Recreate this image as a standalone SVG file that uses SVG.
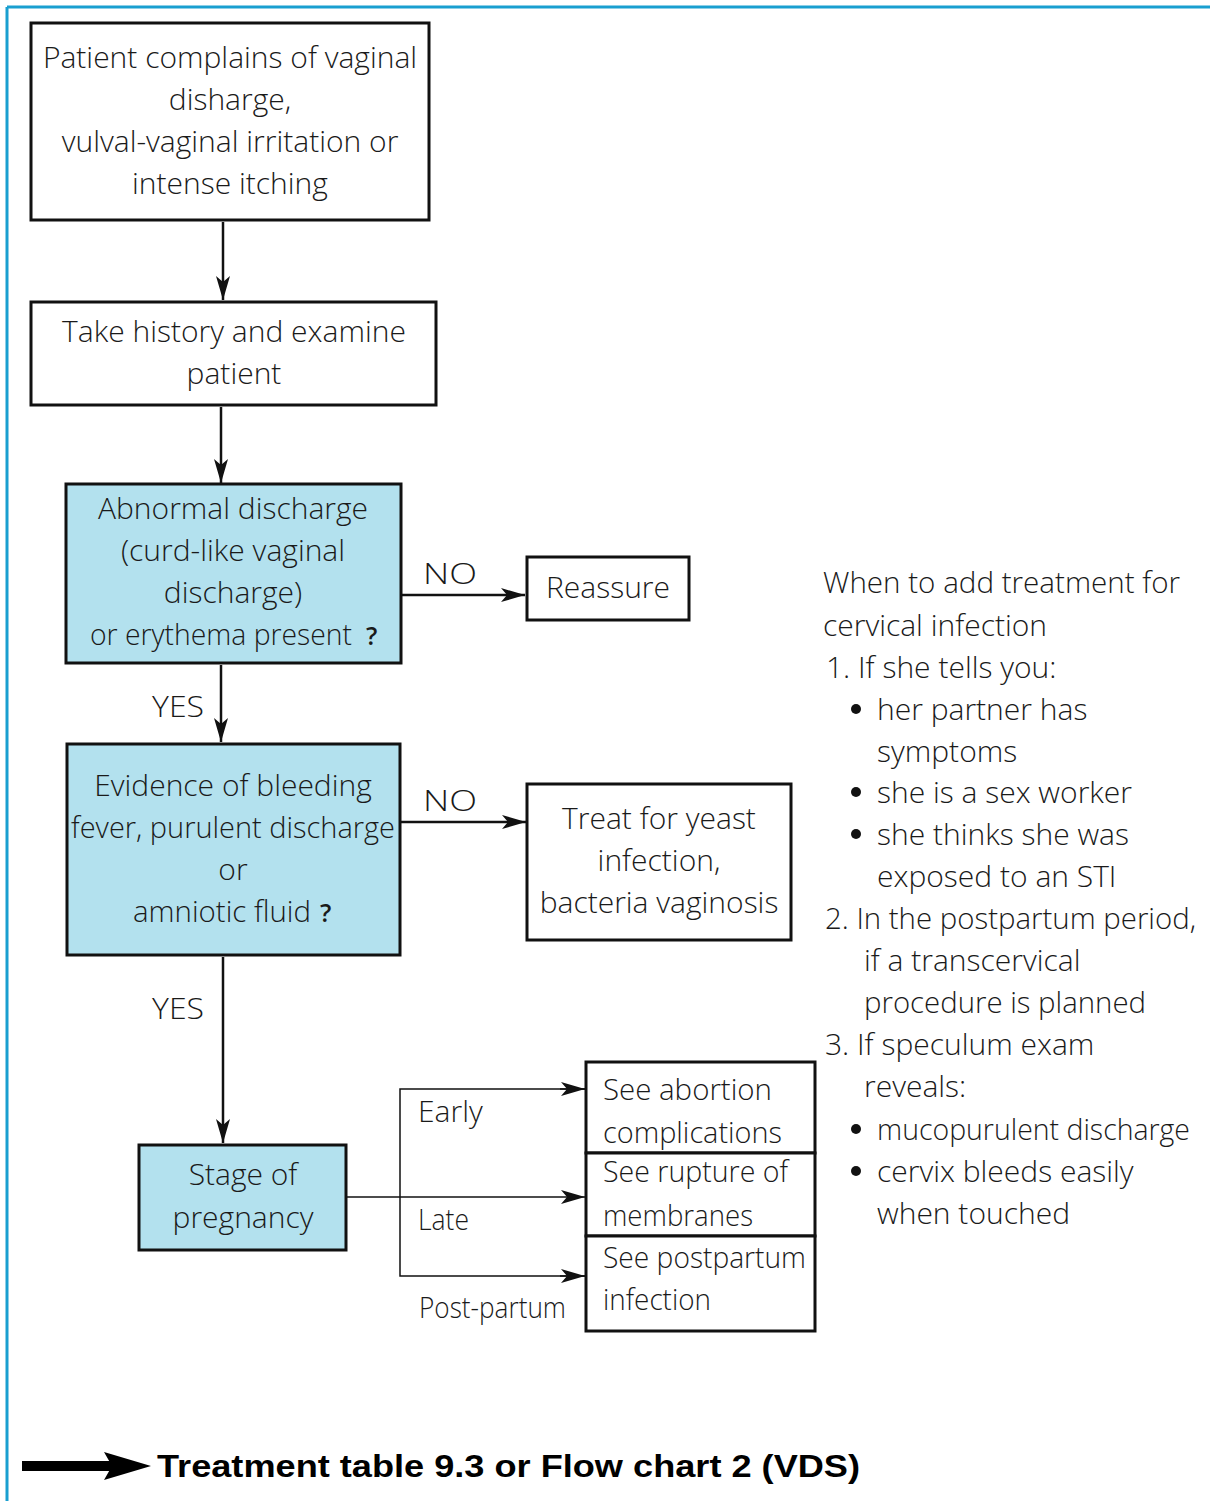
<svg xmlns="http://www.w3.org/2000/svg" width="1210" height="1501" viewBox="0 0 1210 1501">
<style>
  text { font-family: "Open Sans", "Liberation Sans", sans-serif; font-weight: 300; font-size: 30px; fill: #1a1a1a; }
  .c { text-anchor: middle; }
  .q { font-weight: 600; font-size: 25px; }
  .box { fill: #ffffff; stroke: #111111; stroke-width: 3; }
  .blue { fill: #b3e1ee; stroke: #111111; stroke-width: 3; }
  .conn { stroke: #111111; stroke-width: 2.5; fill: none; }
  .thin { stroke: #111111; stroke-width: 1.5; fill: none; }
  .bold { font-family: "Liberation Sans", sans-serif; font-weight: 700; font-size: 32px; fill: #000; }
</style>
<defs>
  <marker id="ah" markerUnits="userSpaceOnUse" markerWidth="26" markerHeight="16" refX="24" refY="8" orient="auto">
    <path d="M0,1 L24,8 L0,15 L6,8 Z" fill="#111111"/>
  </marker>
</defs>
<rect x="0" y="0" width="1210" height="1501" fill="#ffffff"/>
<g id="border">
  <line x1="7" y1="7" x2="1210" y2="7" stroke="#1a9fd0" stroke-width="3"/>
  <line x1="7" y1="7" x2="7" y2="1501" stroke="#1a9fd0" stroke-width="3"/>
</g>
<g id="connectors">
  <line class="conn" x1="223" y1="222" x2="223" y2="300" marker-end="url(#ah)"/>
  <line class="conn" x1="221" y1="407" x2="221" y2="483" marker-end="url(#ah)"/>
  <line class="conn" x1="402" y1="595" x2="525" y2="595" marker-end="url(#ah)"/>
  <line class="conn" x1="221" y1="665" x2="221" y2="742" marker-end="url(#ah)"/>
  <line class="conn" x1="401" y1="822" x2="526" y2="822" marker-end="url(#ah)"/>
  <line class="conn" x1="223" y1="957" x2="223" y2="1143" marker-end="url(#ah)"/>
  <line class="thin" x1="347" y1="1197" x2="585" y2="1197" marker-end="url(#ah)"/>
  <polyline class="thin" points="585,1089 400,1089 400,1276 585,1276"/>
  <line class="thin" x1="560" y1="1089" x2="585" y2="1089" marker-end="url(#ah)"/>
  <line class="thin" x1="560" y1="1276" x2="585" y2="1276" marker-end="url(#ah)"/>
  <text x="423" y="584" textLength="54" lengthAdjust="spacingAndGlyphs">NO</text>
  <text x="423" y="811" textLength="54" lengthAdjust="spacingAndGlyphs">NO</text>
  <text x="152" y="717" textLength="52" lengthAdjust="spacingAndGlyphs">YES</text>
  <text x="152" y="1019" textLength="52" lengthAdjust="spacingAndGlyphs">YES</text>
  <text x="418" y="1122">Early</text>
  <text x="418" y="1230" textLength="51" lengthAdjust="spacingAndGlyphs">Late</text>
  <text x="419" y="1318" textLength="147" lengthAdjust="spacingAndGlyphs">Post-partum</text>
</g>
<g id="n1">
  <rect class="box" x="31" y="23" width="398" height="197"/>
  <text class="c" x="230" y="68">Patient complains of vaginal</text>
  <text class="c" x="230" y="110">disharge,</text>
  <text class="c" x="230" y="152">vulval-vaginal irritation or</text>
  <text class="c" x="230" y="194">intense itching</text>
</g>
<g id="n2">
  <rect class="box" x="31" y="302" width="405" height="103"/>
  <text class="c" x="234" y="342">Take history and examine</text>
  <text class="c" x="234" y="384">patient</text>
</g>
<g id="n3">
  <rect class="blue" x="66" y="484" width="335" height="179"/>
  <text class="c" x="233" y="519">Abnormal discharge</text>
  <text class="c" x="233" y="561">(curd-like vaginal</text>
  <text class="c" x="233" y="603">discharge)</text>
  <text x="90" y="645" style="font-size:29px" textLength="262" lengthAdjust="spacingAndGlyphs">or erythema present</text>
  <text class="q" x="366" y="645">?</text>
</g>
<g id="n4">
  <rect class="box" x="527" y="557" width="162" height="63"/>
  <text class="c" x="608" y="598">Reassure</text>
</g>
<g id="n5">
  <rect class="blue" x="67" y="744" width="333" height="211"/>
  <text class="c" x="233" y="796">Evidence of bleeding</text>
  <text class="c" x="233" y="838" textLength="324" lengthAdjust="spacingAndGlyphs">fever, purulent discharge</text>
  <text class="c" x="233" y="880">or</text>
  <text x="133" y="922" textLength="178" lengthAdjust="spacingAndGlyphs">amniotic fluid</text>
  <text class="q" x="320" y="922">?</text>
</g>
<g id="n6">
  <rect class="box" x="527" y="784" width="264" height="156"/>
  <text class="c" x="659" y="829">Treat for yeast</text>
  <text class="c" x="659" y="871">infection,</text>
  <text class="c" x="659" y="913">bacteria vaginosis</text>
</g>
<g id="n7">
  <rect class="blue" x="139" y="1145" width="207" height="105"/>
  <text class="c" x="243" y="1185">Stage of</text>
  <text class="c" x="243" y="1228">pregnancy</text>
</g>
<g id="n8">
  <rect class="box" x="586" y="1062" width="229" height="91"/>
  <text x="603" y="1100" textLength="169" lengthAdjust="spacingAndGlyphs">See abortion</text>
  <text x="603" y="1143" textLength="179" lengthAdjust="spacingAndGlyphs">complications</text>
</g>
<g id="n9">
  <rect class="box" x="586" y="1153" width="229" height="83"/>
  <text x="603" y="1182" textLength="185" lengthAdjust="spacingAndGlyphs">See rupture of</text>
  <text x="603" y="1226" textLength="150" lengthAdjust="spacingAndGlyphs">membranes</text>
</g>
<g id="n10">
  <rect class="box" x="586" y="1236" width="229" height="95"/>
  <text x="603" y="1268" textLength="203" lengthAdjust="spacingAndGlyphs">See postpartum</text>
  <text x="603" y="1310" textLength="108" lengthAdjust="spacingAndGlyphs">infection</text>
</g>
<g id="notes">
  <text x="823" y="593" textLength="357" lengthAdjust="spacingAndGlyphs">When to add treatment for</text>
  <text x="823" y="636">cervical infection</text>
  <text x="826" y="678">1. If she tells you:</text>
  <circle cx="856" cy="709" r="5" fill="#111"/>
  <text x="877" y="720">her partner has</text>
  <text x="877" y="762">symptoms</text>
  <circle cx="856" cy="792" r="5" fill="#111"/>
  <text x="877" y="803">she is a sex worker</text>
  <circle cx="856" cy="834" r="5" fill="#111"/>
  <text x="877" y="845">she thinks she was</text>
  <text x="877" y="887">exposed to an STI</text>
  <text x="825" y="929" textLength="371" lengthAdjust="spacingAndGlyphs">2. In the postpartum period,</text>
  <text x="864" y="971">if a transcervical</text>
  <text x="864" y="1013" textLength="282" lengthAdjust="spacingAndGlyphs">procedure is planned</text>
  <text x="825" y="1055">3. If speculum exam</text>
  <text x="864" y="1097">reveals:</text>
  <circle cx="856" cy="1129" r="5" fill="#111"/>
  <text x="877" y="1140" textLength="313" lengthAdjust="spacingAndGlyphs">mucopurulent discharge</text>
  <circle cx="856" cy="1171" r="5" fill="#111"/>
  <text x="877" y="1182">cervix bleeds easily</text>
  <text x="877" y="1224">when touched</text>
</g>
<g id="footer">
  <rect x="22" y="1461" width="92" height="10" fill="#000"/>
  <path d="M104,1452 L151,1466 L104,1480 L112,1466 Z" fill="#000"/>
  <text class="bold" x="157" y="1477" textLength="703" lengthAdjust="spacingAndGlyphs">Treatment table 9.3 or Flow chart 2 (VDS)</text>
</g>
</svg>
